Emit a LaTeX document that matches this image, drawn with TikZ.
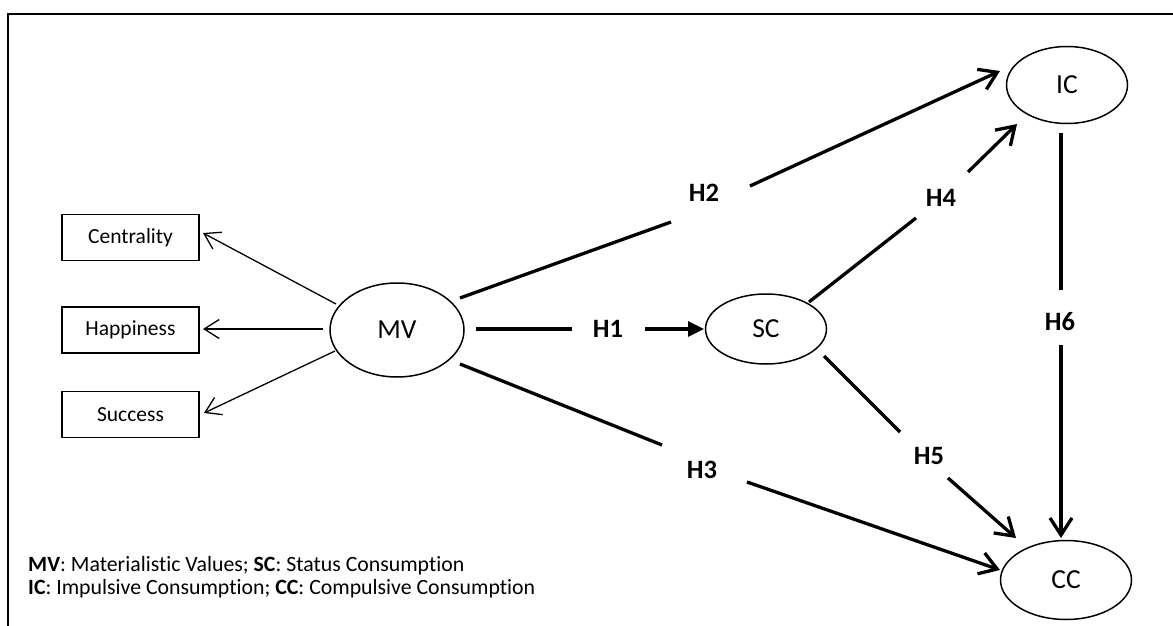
\documentclass[tikz,border=0pt]{standalone}
\usepackage{fontspec}
\setmainfont{Carlito}[Ligatures=NoCommon]
\usetikzlibrary{arrows.meta,shapes.geometric}
\begin{document}
\begin{tikzpicture}[x=1pt,y=-1pt,
  boxnode/.style={draw,line width=1.4pt,minimum width=137pt,minimum height=46pt,inner sep=0pt,font=\fontsize{21.5}{24}\selectfont},
  ellnode/.style={draw,ellipse,line width=1.5pt,inner sep=0pt,font=\fontsize{27.5}{32}\selectfont},
  hlab/.style={font=\fontsize{26.5}{30}\selectfont\bfseries,inner sep=0pt},
  capnode/.style={anchor=west,inner sep=0pt,font=\fontsize{21.8}{26}\selectfont},
  thinarr/.style={line width=1.3pt,-{Straight Barb[length=15pt,width=19pt]}},
  thk/.style={line width=3.3pt},
  thkarr/.style={line width=3.3pt,-{Straight Barb[length=17pt,width=22pt]}},
  thktri/.style={line width=3.3pt,-{Triangle[length=16pt,width=15pt]}}
]
\useasboundingbox (0,0) rectangle (1173,626);
\draw[line width=1.8pt] (8,626) -- (8,14) -- (1173,14);

% nodes
\node[boxnode] (Cen) at (130.5,237.5) {Centrality};
\node[boxnode] (Hap) at (130.5,330) {Happiness};
\node[boxnode] (Suc) at (130.5,414.5) {Success};
\node[ellnode,minimum width=134pt,minimum height=94pt] (MV) at (397,330) {MV};
\node[ellnode,minimum width=121pt,minimum height=70pt] (SC) at (766,329) {SC};
\node[ellnode,minimum width=121pt,minimum height=77pt] (IC) at (1067,85) {IC};
\node[ellnode,minimum width=131pt,minimum height=79pt] (CC) at (1066,580) {CC};

% hypothesis labels
\node[hlab] (H1) at (608,329) {H1};
\node[hlab] (H2) at (704,193) {H2};
\node[hlab] (H3) at (702,470) {H3};
\node[hlab] (H4) at (941,198) {H4};
\node[hlab] (H5) at (929,456) {H5};
\node[hlab] (H6) at (1060,322) {H6};

% connector end points
\coordinate (mvC) at (336,304); \coordinate (cenT) at (203,233);
\coordinate (mvH) at (323,329); \coordinate (hapT) at (203,329);
\coordinate (mvS) at (335,351); \coordinate (sucT) at (204,413);

\coordinate (h1s) at (476,329); \coordinate (h1a) at (572,329);
\coordinate (h1b) at (645,329); \coordinate (h1t) at (704,329);
\coordinate (h2s) at (460,298); \coordinate (h2a) at (671,222);
\coordinate (h2b) at (750,186); \coordinate (h2t) at (1000,71);
\coordinate (h3s) at (460,364); \coordinate (h3a) at (662,445);
\coordinate (h3b) at (747,482); \coordinate (h3t) at (1000,570);
\coordinate (h4s) at (809,302); \coordinate (h4a) at (916,218);
\coordinate (h4b) at (968,172); \coordinate (h4t) at (1017,124);
\coordinate (h5s) at (824,356); \coordinate (h5a) at (900,432);
\coordinate (h5b) at (948,478); \coordinate (h5t) at (1016,538);
\coordinate (h6s) at (1061,133); \coordinate (h6a) at (1061,290);
\coordinate (h6b) at (1061,345); \coordinate (h6t) at (1061,538);

% indicator arrows
\draw[thinarr] (mvC) -- (cenT);
\draw[thinarr] (mvH) -- (hapT);
\draw[thinarr] (mvS) -- (sucT);

% structural paths
\draw[thk] (h1s) -- (h1a);
\draw[thktri] (h1b) -- (h1t);
\draw[thk] (h2s) -- (h2a);
\draw[thkarr] (h2b) -- (h2t);
\draw[thk] (h3s) -- (h3a);
\draw[thkarr] (h3b) -- (h3t);
\draw[thk] (h4s) -- (h4a);
\draw[thkarr] (h4b) -- (h4t);
\draw[thk] (h5s) -- (h5a);
\draw[thkarr] (h5b) -- (h5t);
\draw[thk] (h6s) -- (h6a);
\draw[thkarr] (h6b) -- (h6t);

% legend
\node[capnode] (cap1) at (28,566) {\textbf{MV}: Materialistic Values; \textbf{SC}: Status Consumption};
\node[capnode] (cap2) at (28,589) {\textbf{IC}: Impulsive Consumption; \textbf{CC}: Compulsive Consumption};
\end{tikzpicture}
\end{document}
